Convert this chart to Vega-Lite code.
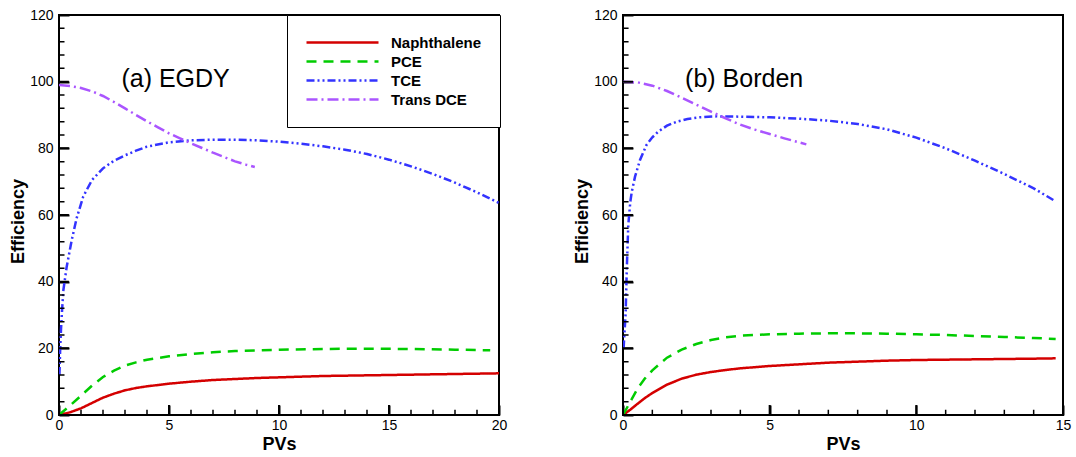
{
  "$schema": "https://vega.github.io/schema/vega-lite/v6.json",
  "background": "white",
  "padding": {"left": 8, "top": 7, "right": 5, "bottom": 5},
  "config": {
    "font": "Liberation Sans",
    "view": {"stroke": "black", "strokeWidth": 2},
    "axis": {
      "grid": false, "domain": false,
      "labelColor": "black", "labelFont": "Liberation Sans", "labelFontSize": 14,
      "labelFlush": false, "labelOverlap": false, "labelBound": false,
      "titleColor": "black", "titleFont": "Liberation Sans", "titleFontSize": 18, "titleFontWeight": "bold"
    }
  },
  "datasets": {
    "pvTicks": [
      {"pv": 0}, {"pv": 1}, {"pv": 2}, {"pv": 3}, {"pv": 4}, {"pv": 5}, {"pv": 6}, {"pv": 7},
      {"pv": 8}, {"pv": 9}, {"pv": 10}, {"pv": 11}, {"pv": 12}, {"pv": 13}, {"pv": 14}, {"pv": 15},
      {"pv": 16}, {"pv": 17}, {"pv": 18}, {"pv": 19}, {"pv": 20}
    ],
    "effTicks": [
      {"efficiency": 0}, {"efficiency": 4}, {"efficiency": 8}, {"efficiency": 12}, {"efficiency": 16},
      {"efficiency": 20}, {"efficiency": 24}, {"efficiency": 28}, {"efficiency": 32}, {"efficiency": 36},
      {"efficiency": 40}, {"efficiency": 44}, {"efficiency": 48}, {"efficiency": 52}, {"efficiency": 56},
      {"efficiency": 60}, {"efficiency": 64}, {"efficiency": 68}, {"efficiency": 72}, {"efficiency": 76},
      {"efficiency": 80}, {"efficiency": 84}, {"efficiency": 88}, {"efficiency": 92}, {"efficiency": 96},
      {"efficiency": 100}, {"efficiency": 104}, {"efficiency": 108}, {"efficiency": 112}, {"efficiency": 116},
      {"efficiency": 120}
    ],
    "runs": [
      {"site": "EGDY", "compound": "Naphthalene", "pv": 0, "efficiency": 0},
      {"site": "EGDY", "compound": "Naphthalene", "pv": 0.5, "efficiency": 0.8},
      {"site": "EGDY", "compound": "Naphthalene", "pv": 1, "efficiency": 2.0},
      {"site": "EGDY", "compound": "Naphthalene", "pv": 1.5, "efficiency": 3.6},
      {"site": "EGDY", "compound": "Naphthalene", "pv": 2, "efficiency": 5.2},
      {"site": "EGDY", "compound": "Naphthalene", "pv": 2.5, "efficiency": 6.4},
      {"site": "EGDY", "compound": "Naphthalene", "pv": 3, "efficiency": 7.4},
      {"site": "EGDY", "compound": "Naphthalene", "pv": 3.5, "efficiency": 8.1},
      {"site": "EGDY", "compound": "Naphthalene", "pv": 4, "efficiency": 8.6},
      {"site": "EGDY", "compound": "Naphthalene", "pv": 5, "efficiency": 9.4},
      {"site": "EGDY", "compound": "Naphthalene", "pv": 6, "efficiency": 10.0},
      {"site": "EGDY", "compound": "Naphthalene", "pv": 7, "efficiency": 10.5},
      {"site": "EGDY", "compound": "Naphthalene", "pv": 8, "efficiency": 10.8},
      {"site": "EGDY", "compound": "Naphthalene", "pv": 9, "efficiency": 11.1},
      {"site": "EGDY", "compound": "Naphthalene", "pv": 10, "efficiency": 11.3},
      {"site": "EGDY", "compound": "Naphthalene", "pv": 12, "efficiency": 11.7},
      {"site": "EGDY", "compound": "Naphthalene", "pv": 14, "efficiency": 11.9},
      {"site": "EGDY", "compound": "Naphthalene", "pv": 16, "efficiency": 12.1},
      {"site": "EGDY", "compound": "Naphthalene", "pv": 18, "efficiency": 12.3},
      {"site": "EGDY", "compound": "Naphthalene", "pv": 20, "efficiency": 12.5},

      {"site": "EGDY", "compound": "PCE", "pv": 0, "efficiency": 0},
      {"site": "EGDY", "compound": "PCE", "pv": 0.5, "efficiency": 2.8},
      {"site": "EGDY", "compound": "PCE", "pv": 1, "efficiency": 5.8},
      {"site": "EGDY", "compound": "PCE", "pv": 1.5, "efficiency": 8.8},
      {"site": "EGDY", "compound": "PCE", "pv": 2, "efficiency": 11.4},
      {"site": "EGDY", "compound": "PCE", "pv": 2.5, "efficiency": 13.3},
      {"site": "EGDY", "compound": "PCE", "pv": 3, "efficiency": 14.8},
      {"site": "EGDY", "compound": "PCE", "pv": 3.5, "efficiency": 15.8},
      {"site": "EGDY", "compound": "PCE", "pv": 4, "efficiency": 16.6},
      {"site": "EGDY", "compound": "PCE", "pv": 5, "efficiency": 17.6},
      {"site": "EGDY", "compound": "PCE", "pv": 6, "efficiency": 18.3},
      {"site": "EGDY", "compound": "PCE", "pv": 7, "efficiency": 18.8},
      {"site": "EGDY", "compound": "PCE", "pv": 8, "efficiency": 19.2},
      {"site": "EGDY", "compound": "PCE", "pv": 9, "efficiency": 19.4},
      {"site": "EGDY", "compound": "PCE", "pv": 10, "efficiency": 19.6},
      {"site": "EGDY", "compound": "PCE", "pv": 12, "efficiency": 19.8},
      {"site": "EGDY", "compound": "PCE", "pv": 14, "efficiency": 19.9},
      {"site": "EGDY", "compound": "PCE", "pv": 16, "efficiency": 19.8},
      {"site": "EGDY", "compound": "PCE", "pv": 18, "efficiency": 19.6},
      {"site": "EGDY", "compound": "PCE", "pv": 19.6, "efficiency": 19.4},

      {"site": "EGDY", "compound": "TCE", "pv": 0.02, "efficiency": 12},
      {"site": "EGDY", "compound": "TCE", "pv": 0.05, "efficiency": 19},
      {"site": "EGDY", "compound": "TCE", "pv": 0.09, "efficiency": 25.5},
      {"site": "EGDY", "compound": "TCE", "pv": 0.14, "efficiency": 31.5},
      {"site": "EGDY", "compound": "TCE", "pv": 0.2, "efficiency": 37.5},
      {"site": "EGDY", "compound": "TCE", "pv": 0.35, "efficiency": 44.5},
      {"site": "EGDY", "compound": "TCE", "pv": 0.58, "efficiency": 52.5},
      {"site": "EGDY", "compound": "TCE", "pv": 0.8, "efficiency": 59},
      {"site": "EGDY", "compound": "TCE", "pv": 1.1, "efficiency": 65.5},
      {"site": "EGDY", "compound": "TCE", "pv": 1.5, "efficiency": 70.5},
      {"site": "EGDY", "compound": "TCE", "pv": 2, "efficiency": 74},
      {"site": "EGDY", "compound": "TCE", "pv": 2.5, "efficiency": 76.3},
      {"site": "EGDY", "compound": "TCE", "pv": 3, "efficiency": 77.9},
      {"site": "EGDY", "compound": "TCE", "pv": 3.5, "efficiency": 79.3},
      {"site": "EGDY", "compound": "TCE", "pv": 4, "efficiency": 80.5},
      {"site": "EGDY", "compound": "TCE", "pv": 5, "efficiency": 81.8},
      {"site": "EGDY", "compound": "TCE", "pv": 6, "efficiency": 82.4},
      {"site": "EGDY", "compound": "TCE", "pv": 7, "efficiency": 82.6},
      {"site": "EGDY", "compound": "TCE", "pv": 8, "efficiency": 82.6},
      {"site": "EGDY", "compound": "TCE", "pv": 9, "efficiency": 82.4},
      {"site": "EGDY", "compound": "TCE", "pv": 10, "efficiency": 82},
      {"site": "EGDY", "compound": "TCE", "pv": 11, "efficiency": 81.4},
      {"site": "EGDY", "compound": "TCE", "pv": 12, "efficiency": 80.6},
      {"site": "EGDY", "compound": "TCE", "pv": 13, "efficiency": 79.6},
      {"site": "EGDY", "compound": "TCE", "pv": 14, "efficiency": 78.3},
      {"site": "EGDY", "compound": "TCE", "pv": 15, "efficiency": 76.6},
      {"site": "EGDY", "compound": "TCE", "pv": 16, "efficiency": 74.6},
      {"site": "EGDY", "compound": "TCE", "pv": 17, "efficiency": 72.3},
      {"site": "EGDY", "compound": "TCE", "pv": 18, "efficiency": 69.7},
      {"site": "EGDY", "compound": "TCE", "pv": 19, "efficiency": 66.8},
      {"site": "EGDY", "compound": "TCE", "pv": 20, "efficiency": 63.6},

      {"site": "EGDY", "compound": "Trans DCE", "pv": 0, "efficiency": 99},
      {"site": "EGDY", "compound": "Trans DCE", "pv": 0.5, "efficiency": 98.7},
      {"site": "EGDY", "compound": "Trans DCE", "pv": 1, "efficiency": 98.1},
      {"site": "EGDY", "compound": "Trans DCE", "pv": 1.5, "efficiency": 97.1},
      {"site": "EGDY", "compound": "Trans DCE", "pv": 2, "efficiency": 95.7},
      {"site": "EGDY", "compound": "Trans DCE", "pv": 2.5, "efficiency": 93.9},
      {"site": "EGDY", "compound": "Trans DCE", "pv": 3, "efficiency": 92},
      {"site": "EGDY", "compound": "Trans DCE", "pv": 3.5, "efficiency": 90},
      {"site": "EGDY", "compound": "Trans DCE", "pv": 4, "efficiency": 88.1},
      {"site": "EGDY", "compound": "Trans DCE", "pv": 4.5, "efficiency": 86.3},
      {"site": "EGDY", "compound": "Trans DCE", "pv": 5, "efficiency": 84.5},
      {"site": "EGDY", "compound": "Trans DCE", "pv": 5.5, "efficiency": 83},
      {"site": "EGDY", "compound": "Trans DCE", "pv": 6, "efficiency": 81.5},
      {"site": "EGDY", "compound": "Trans DCE", "pv": 6.5, "efficiency": 80.1},
      {"site": "EGDY", "compound": "Trans DCE", "pv": 7, "efficiency": 78.7},
      {"site": "EGDY", "compound": "Trans DCE", "pv": 7.5, "efficiency": 77.4},
      {"site": "EGDY", "compound": "Trans DCE", "pv": 8, "efficiency": 76.1},
      {"site": "EGDY", "compound": "Trans DCE", "pv": 8.5, "efficiency": 75.1},
      {"site": "EGDY", "compound": "Trans DCE", "pv": 8.9, "efficiency": 74.4},

      {"site": "Borden", "compound": "Naphthalene", "pv": 0, "efficiency": 0},
      {"site": "Borden", "compound": "Naphthalene", "pv": 0.25, "efficiency": 1.6},
      {"site": "Borden", "compound": "Naphthalene", "pv": 0.5, "efficiency": 3.4},
      {"site": "Borden", "compound": "Naphthalene", "pv": 0.75, "efficiency": 5.1},
      {"site": "Borden", "compound": "Naphthalene", "pv": 1, "efficiency": 6.6},
      {"site": "Borden", "compound": "Naphthalene", "pv": 1.5, "efficiency": 9.1},
      {"site": "Borden", "compound": "Naphthalene", "pv": 2, "efficiency": 10.9},
      {"site": "Borden", "compound": "Naphthalene", "pv": 2.5, "efficiency": 12.1},
      {"site": "Borden", "compound": "Naphthalene", "pv": 3, "efficiency": 12.9},
      {"site": "Borden", "compound": "Naphthalene", "pv": 3.5, "efficiency": 13.5},
      {"site": "Borden", "compound": "Naphthalene", "pv": 4, "efficiency": 14.0},
      {"site": "Borden", "compound": "Naphthalene", "pv": 5, "efficiency": 14.7},
      {"site": "Borden", "compound": "Naphthalene", "pv": 6, "efficiency": 15.2},
      {"site": "Borden", "compound": "Naphthalene", "pv": 7, "efficiency": 15.7},
      {"site": "Borden", "compound": "Naphthalene", "pv": 8, "efficiency": 16.0},
      {"site": "Borden", "compound": "Naphthalene", "pv": 9, "efficiency": 16.3},
      {"site": "Borden", "compound": "Naphthalene", "pv": 10, "efficiency": 16.5},
      {"site": "Borden", "compound": "Naphthalene", "pv": 11, "efficiency": 16.6},
      {"site": "Borden", "compound": "Naphthalene", "pv": 12, "efficiency": 16.7},
      {"site": "Borden", "compound": "Naphthalene", "pv": 13, "efficiency": 16.8},
      {"site": "Borden", "compound": "Naphthalene", "pv": 14, "efficiency": 16.9},
      {"site": "Borden", "compound": "Naphthalene", "pv": 14.75, "efficiency": 17.0},

      {"site": "Borden", "compound": "PCE", "pv": 0, "efficiency": 0},
      {"site": "Borden", "compound": "PCE", "pv": 0.25, "efficiency": 4},
      {"site": "Borden", "compound": "PCE", "pv": 0.5, "efficiency": 8},
      {"site": "Borden", "compound": "PCE", "pv": 0.75, "efficiency": 11},
      {"site": "Borden", "compound": "PCE", "pv": 1, "efficiency": 13.4},
      {"site": "Borden", "compound": "PCE", "pv": 1.5, "efficiency": 17.2},
      {"site": "Borden", "compound": "PCE", "pv": 2, "efficiency": 19.6},
      {"site": "Borden", "compound": "PCE", "pv": 2.5, "efficiency": 21.3},
      {"site": "Borden", "compound": "PCE", "pv": 3, "efficiency": 22.5},
      {"site": "Borden", "compound": "PCE", "pv": 3.5, "efficiency": 23.3},
      {"site": "Borden", "compound": "PCE", "pv": 4, "efficiency": 23.8},
      {"site": "Borden", "compound": "PCE", "pv": 5, "efficiency": 24.2},
      {"site": "Borden", "compound": "PCE", "pv": 6, "efficiency": 24.4},
      {"site": "Borden", "compound": "PCE", "pv": 7, "efficiency": 24.5},
      {"site": "Borden", "compound": "PCE", "pv": 8, "efficiency": 24.5},
      {"site": "Borden", "compound": "PCE", "pv": 9, "efficiency": 24.4},
      {"site": "Borden", "compound": "PCE", "pv": 10, "efficiency": 24.2},
      {"site": "Borden", "compound": "PCE", "pv": 11, "efficiency": 24},
      {"site": "Borden", "compound": "PCE", "pv": 12, "efficiency": 23.7},
      {"site": "Borden", "compound": "PCE", "pv": 13, "efficiency": 23.4},
      {"site": "Borden", "compound": "PCE", "pv": 14, "efficiency": 23.1},
      {"site": "Borden", "compound": "PCE", "pv": 14.75, "efficiency": 22.8},

      {"site": "Borden", "compound": "TCE", "pv": 0.02, "efficiency": 20},
      {"site": "Borden", "compound": "TCE", "pv": 0.09, "efficiency": 30.5},
      {"site": "Borden", "compound": "TCE", "pv": 0.13, "efficiency": 44},
      {"site": "Borden", "compound": "TCE", "pv": 0.18, "efficiency": 57},
      {"site": "Borden", "compound": "TCE", "pv": 0.25, "efficiency": 64},
      {"site": "Borden", "compound": "TCE", "pv": 0.3, "efficiency": 67},
      {"site": "Borden", "compound": "TCE", "pv": 0.41, "efficiency": 71.5},
      {"site": "Borden", "compound": "TCE", "pv": 0.58, "efficiency": 76.5},
      {"site": "Borden", "compound": "TCE", "pv": 0.8, "efficiency": 81},
      {"site": "Borden", "compound": "TCE", "pv": 1, "efficiency": 83.3},
      {"site": "Borden", "compound": "TCE", "pv": 1.2, "efficiency": 85},
      {"site": "Borden", "compound": "TCE", "pv": 1.5, "efficiency": 86.8},
      {"site": "Borden", "compound": "TCE", "pv": 1.83, "efficiency": 88},
      {"site": "Borden", "compound": "TCE", "pv": 2.2, "efficiency": 88.8},
      {"site": "Borden", "compound": "TCE", "pv": 2.6, "efficiency": 89.3},
      {"site": "Borden", "compound": "TCE", "pv": 3.2, "efficiency": 89.6},
      {"site": "Borden", "compound": "TCE", "pv": 4, "efficiency": 89.5},
      {"site": "Borden", "compound": "TCE", "pv": 5, "efficiency": 89.3},
      {"site": "Borden", "compound": "TCE", "pv": 6, "efficiency": 88.9},
      {"site": "Borden", "compound": "TCE", "pv": 7, "efficiency": 88.3},
      {"site": "Borden", "compound": "TCE", "pv": 8, "efficiency": 87.3},
      {"site": "Borden", "compound": "TCE", "pv": 9, "efficiency": 85.7},
      {"site": "Borden", "compound": "TCE", "pv": 10, "efficiency": 83.2},
      {"site": "Borden", "compound": "TCE", "pv": 11, "efficiency": 80},
      {"site": "Borden", "compound": "TCE", "pv": 12, "efficiency": 76.3},
      {"site": "Borden", "compound": "TCE", "pv": 13, "efficiency": 72.3},
      {"site": "Borden", "compound": "TCE", "pv": 14, "efficiency": 68},
      {"site": "Borden", "compound": "TCE", "pv": 14.67, "efficiency": 64.5},

      {"site": "Borden", "compound": "Trans DCE", "pv": 0, "efficiency": 100},
      {"site": "Borden", "compound": "Trans DCE", "pv": 0.5, "efficiency": 99.8},
      {"site": "Borden", "compound": "Trans DCE", "pv": 1, "efficiency": 98.8},
      {"site": "Borden", "compound": "Trans DCE", "pv": 1.5, "efficiency": 97.2},
      {"site": "Borden", "compound": "Trans DCE", "pv": 2, "efficiency": 95.2},
      {"site": "Borden", "compound": "Trans DCE", "pv": 2.5, "efficiency": 93.1},
      {"site": "Borden", "compound": "Trans DCE", "pv": 3, "efficiency": 91},
      {"site": "Borden", "compound": "Trans DCE", "pv": 3.5, "efficiency": 89},
      {"site": "Borden", "compound": "Trans DCE", "pv": 4, "efficiency": 87.1},
      {"site": "Borden", "compound": "Trans DCE", "pv": 4.5, "efficiency": 85.6},
      {"site": "Borden", "compound": "Trans DCE", "pv": 5, "efficiency": 84.3},
      {"site": "Borden", "compound": "Trans DCE", "pv": 5.5, "efficiency": 83},
      {"site": "Borden", "compound": "Trans DCE", "pv": 6, "efficiency": 81.8},
      {"site": "Borden", "compound": "Trans DCE", "pv": 6.25, "efficiency": 81.2}
    ]
  },
  "spacing": 124,
  "bounds": "flush",
  "resolve": {
    "scale": {"color": "independent", "strokeDash": "independent"},
    "legend": {"color": "independent", "strokeDash": "independent"}
  },
  "hconcat": [
    {
      "width": 440,
      "height": 400,
      "resolve": {"axis": {"x": "independent", "y": "independent"}},
      "layer": [
        {
          "data": {"name": "runs"},
          "transform": [{"filter": "datum.site === 'EGDY'"}],
          "mark": {"type": "line", "strokeWidth": 2.5, "clip": true},
          "encoding": {
            "x": {
              "field": "pv", "type": "quantitative",
              "scale": {"domain": [0, 20], "nice": false, "zero": false},
              "axis": {
                "orient": "bottom", "title": "PVs", "values": [0, 5, 10, 15, 20],
                "ticks": true, "tickColor": "#000000", "tickOpacity": 1, "tickSize": -10, "tickWidth": 2,
                "labelPadding": 13, "labelOverlap": false,
                "titleY": 34, "titleBaseline": "alphabetic"
              }
            },
            "y": {
              "field": "efficiency", "type": "quantitative",
              "scale": {"domain": [0, 120], "nice": false, "zero": false},
              "axis": {
                "orient": "left", "title": "Efficiency", "values": [0, 20, 40, 60, 80, 100, 120],
                "ticks": true, "tickColor": "#000000", "tickOpacity": 1, "tickSize": -10, "tickWidth": 2,
                "labelPadding": 16, "labelOverlap": false,
                "titleX": -41, "titleY": 206, "titleBaseline": "middle"
              }
            },
            "color": {
              "field": "compound", "type": "nominal",
              "scale": {"domain": ["Naphthalene", "PCE", "TCE", "Trans DCE"], "range": ["#d40000", "#00cc00", "#3333ff", "#aa55ff"]},
              "legend": {
                "title": null, "orient": "none", "legendX": 228, "legendY": 0, "direction": "vertical",
                "symbolType": "stroke", "symbolSize": 5184, "symbolStrokeWidth": 2.5,
                "clipHeight": 19, "rowPadding": 0, "labelOffset": 11,
                "labelFont": "Liberation Sans", "labelFontSize": 15, "labelFontWeight": "bold", "labelColor": "black",
                "padding": 18, "strokeColor": "black", "fillColor": "white"
              }
            },
            "strokeDash": {
              "field": "compound", "type": "nominal",
              "scale": {"domain": ["Naphthalene", "PCE", "TCE", "Trans DCE"], "range": [[1, 0], [10, 7], [8, 3, 2, 3, 2, 3], [11, 4, 2, 4]]},
              "legend": {
                "title": null, "orient": "none", "legendX": 228, "legendY": 0, "direction": "vertical",
                "symbolType": "stroke", "symbolSize": 5184, "symbolStrokeWidth": 2.5,
                "clipHeight": 19, "rowPadding": 0, "labelOffset": 11,
                "labelFont": "Liberation Sans", "labelFontSize": 15, "labelFontWeight": "bold", "labelColor": "black",
                "padding": 18, "strokeColor": "black", "fillColor": "white"
              }
            }
          }
        },
        {
          "data": {"name": "pvTicks"},
          "transform": [{"filter": "datum.pv % 5 === 0"}],
          "mark": {"type": "rect", "fill": "black", "stroke": "black", "strokeWidth": 2, "clip": true},
          "encoding": {
            "x": {"field": "pv", "type": "quantitative", "axis": null},
            "x2": {"field": "pv"},
            "y": {"datum": 0, "type": "quantitative", "axis": null},
            "y2": {"datum": 3}
          }
        },
        {
          "data": {"name": "pvTicks"},
          "transform": [{"filter": "datum.pv % 5 !== 0"}],
          "mark": {"type": "rect", "fill": "black", "stroke": "black", "strokeWidth": 1.5, "clip": true},
          "encoding": {
            "x": {"field": "pv", "type": "quantitative", "axis": null},
            "x2": {"field": "pv"},
            "y": {"datum": 0, "type": "quantitative", "axis": null},
            "y2": {"datum": 1.6}
          }
        },
        {
          "data": {"name": "effTicks"},
          "transform": [{"filter": "datum.efficiency % 20 === 0"}],
          "mark": {"type": "rect", "fill": "black", "stroke": "black", "strokeWidth": 2, "clip": true},
          "encoding": {
            "y": {"field": "efficiency", "type": "quantitative", "axis": null},
            "y2": {"field": "efficiency"},
            "x": {"datum": 0, "type": "quantitative", "axis": null},
            "x2": {"datum": 0.45}
          }
        },
        {
          "data": {"name": "effTicks"},
          "transform": [{"filter": "datum.efficiency % 20 !== 0"}],
          "mark": {"type": "rect", "fill": "black", "stroke": "black", "strokeWidth": 1.5, "clip": true},
          "encoding": {
            "y": {"field": "efficiency", "type": "quantitative", "axis": null},
            "y2": {"field": "efficiency"},
            "x": {"datum": 0, "type": "quantitative", "axis": null},
            "x2": {"datum": 0.25}
          }
        },
        {
          "data": {"values": [{}]},
          "mark": {"type": "text", "text": "(a) EGDY", "font": "Liberation Sans", "fontSize": 25, "align": "center", "baseline": "alphabetic", "color": "black"},
          "encoding": {
            "x": {"datum": 5.3, "type": "quantitative", "axis": null},
            "y": {"datum": 98.4, "type": "quantitative", "axis": null}
          }
        }
      ]
    },
    {
      "width": 440,
      "height": 400,
      "resolve": {"axis": {"x": "independent", "y": "independent"}},
      "layer": [
        {
          "data": {"name": "runs"},
          "transform": [{"filter": "datum.site === 'Borden'"}],
          "mark": {"type": "line", "strokeWidth": 2.5, "clip": true},
          "encoding": {
            "x": {
              "field": "pv", "type": "quantitative",
              "scale": {"domain": [0, 15], "nice": false, "zero": false},
              "axis": {
                "orient": "bottom", "title": "PVs", "values": [0, 5, 10, 15],
                "ticks": true, "tickColor": "#000000", "tickOpacity": 1, "tickSize": -10, "tickWidth": 2,
                "labelPadding": 13, "labelOverlap": false,
                "titleY": 34, "titleBaseline": "alphabetic"
              }
            },
            "y": {
              "field": "efficiency", "type": "quantitative",
              "scale": {"domain": [0, 120], "nice": false, "zero": false},
              "axis": {
                "orient": "left", "title": "Efficiency", "values": [0, 20, 40, 60, 80, 100, 120],
                "ticks": true, "tickColor": "#000000", "tickOpacity": 1, "tickSize": -10, "tickWidth": 2,
                "labelPadding": 16, "labelOverlap": false,
                "titleX": -41, "titleY": 206, "titleBaseline": "middle"
              }
            },
            "color": {
              "field": "compound", "type": "nominal",
              "scale": {"domain": ["Naphthalene", "PCE", "TCE", "Trans DCE"], "range": ["#d40000", "#00cc00", "#3333ff", "#aa55ff"]},
              "legend": null
            },
            "strokeDash": {
              "field": "compound", "type": "nominal",
              "scale": {"domain": ["Naphthalene", "PCE", "TCE", "Trans DCE"], "range": [[1, 0], [10, 7], [8, 3, 2, 3, 2, 3], [11, 4, 2, 4]]},
              "legend": null
            }
          }
        },
        {
          "data": {"name": "pvTicks"},
          "transform": [{"filter": "datum.pv <= 15 && datum.pv % 5 === 0"}],
          "mark": {"type": "rect", "fill": "black", "stroke": "black", "strokeWidth": 2, "clip": true},
          "encoding": {
            "x": {"field": "pv", "type": "quantitative", "axis": null},
            "x2": {"field": "pv"},
            "y": {"datum": 0, "type": "quantitative", "axis": null},
            "y2": {"datum": 3}
          }
        },
        {
          "data": {"name": "pvTicks"},
          "transform": [{"filter": "datum.pv <= 15 && datum.pv % 5 !== 0"}],
          "mark": {"type": "rect", "fill": "black", "stroke": "black", "strokeWidth": 1.5, "clip": true},
          "encoding": {
            "x": {"field": "pv", "type": "quantitative", "axis": null},
            "x2": {"field": "pv"},
            "y": {"datum": 0, "type": "quantitative", "axis": null},
            "y2": {"datum": 1.6}
          }
        },
        {
          "data": {"name": "effTicks"},
          "transform": [{"filter": "datum.efficiency % 20 === 0"}],
          "mark": {"type": "rect", "fill": "black", "stroke": "black", "strokeWidth": 2, "clip": true},
          "encoding": {
            "y": {"field": "efficiency", "type": "quantitative", "axis": null},
            "y2": {"field": "efficiency"},
            "x": {"datum": 0, "type": "quantitative", "axis": null},
            "x2": {"datum": 0.34}
          }
        },
        {
          "data": {"name": "effTicks"},
          "transform": [{"filter": "datum.efficiency % 20 !== 0"}],
          "mark": {"type": "rect", "fill": "black", "stroke": "black", "strokeWidth": 1.5, "clip": true},
          "encoding": {
            "y": {"field": "efficiency", "type": "quantitative", "axis": null},
            "y2": {"field": "efficiency"},
            "x": {"datum": 0, "type": "quantitative", "axis": null},
            "x2": {"datum": 0.19}
          }
        },
        {
          "data": {"values": [{}]},
          "mark": {"type": "text", "text": "(b) Borden", "font": "Liberation Sans", "fontSize": 25, "align": "center", "baseline": "alphabetic", "color": "black"},
          "encoding": {
            "x": {"datum": 4.13, "type": "quantitative", "axis": null},
            "y": {"datum": 98.4, "type": "quantitative", "axis": null}
          }
        }
      ]
    }
  ]
}
